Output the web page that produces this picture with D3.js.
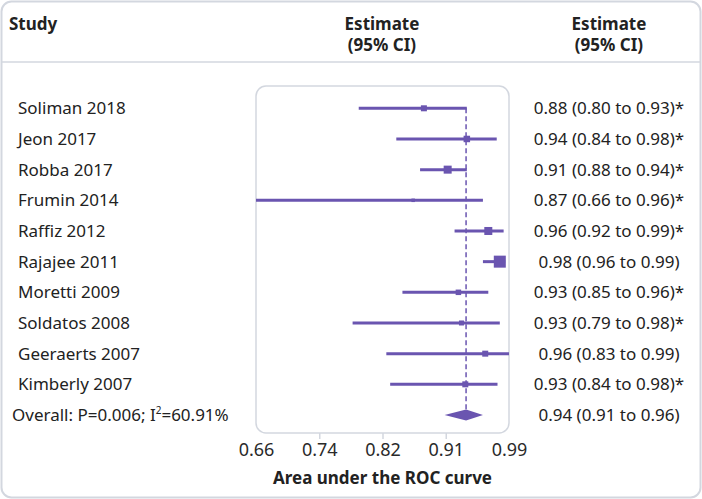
<!DOCTYPE html>
<html>
<head>
<meta charset="utf-8">
<script src="https://cdn.jsdelivr.net/npm/d3@7"></script>
<style>
  body { margin: 0; background: #fff; }
  svg text { font-family: "Noto Sans", "Open Sans", sans-serif; fill: #222; }
</style>
</head>
<body>
<div id="chart"></div>
<script>
var W = 702, H = 499;

var studies = ["Soliman 2018", "Jeon 2017", "Robba 2017", "Frumin 2014", "Raffiz 2012",
    "Rajajee 2011", "Moretti 2009", "Soldatos 2008", "Geeraerts 2007", "Kimberly 2007"];
var est = [0.879, 0.935, 0.910, 0.865, 0.963, 0.978, 0.924, 0.928, 0.959, 0.933];
var lo = [0.794, 0.843, 0.874, 0.660, 0.919, 0.956, 0.851, 0.786, 0.830, 0.835];
var hi = [0.935, 0.974, 0.935, 0.956, 0.983, 0.985, 0.963, 0.978, 0.990, 0.975];
var weight = [6, 6.5, 8, 3.5, 8, 12, 5.5, 5, 6, 6];
var labels = ["0.88 (0.80 to 0.93)*", "0.94 (0.84 to 0.98)*", "0.91 (0.88 to 0.94)*",
    "0.87 (0.66 to 0.96)*", "0.96 (0.92 to 0.99)*", "0.98 (0.96 to 0.99)",
    "0.93 (0.85 to 0.96)*", "0.93 (0.79 to 0.98)*", "0.96 (0.83 to 0.99)",
    "0.93 (0.84 to 0.98)*"];
var overall = {est: 0.934, lo: 0.906, hi: 0.956, label: "0.94 (0.91 to 0.96)"};
var tickValues = [0.66, 0.7425, 0.825, 0.9075, 0.99];
var tickLabels = ["0.66", "0.74", "0.82", "0.91", "0.99"];

var purple = "#6a55b0";
var grey = "#d3d7df";
var fs = "17px";

var svg = d3.select("#chart").append("svg")
    .attr("width", W)
    .attr("height", H);

// card
svg.append("rect")
    .attr("x", 1.5).attr("y", 1.5)
    .attr("width", W - 3).attr("height", H - 3)
    .attr("rx", 10)
    .attr("fill", "#fff")
    .attr("stroke", grey)
    .attr("stroke-width", 2);
svg.append("line")
    .attr("x1", 1.5).attr("x2", W - 1.5)
    .attr("y1", 62).attr("y2", 62)
    .attr("stroke", grey)
    .attr("stroke-width", 1.5);

// headers
svg.append("text").attr("x", 9).attr("y", 30)
    .attr("font-size", fs).attr("font-weight", "bold").text("Study");
[382, 609].forEach(function(cx) {
    svg.append("text").attr("x", cx).attr("y", 30).attr("text-anchor", "middle")
        .attr("font-size", fs).attr("font-weight", "bold").text("Estimate");
    svg.append("text").attr("x", cx).attr("y", 51).attr("text-anchor", "middle")
        .attr("font-size", fs).attr("font-weight", "bold").text("(95% CI)");
});

var x = d3.scaleLinear().domain([0.66, 0.99]).range([256, 509]);
var rows = d3.range(studies.length + 1);
var y = d3.scalePoint().domain(rows).range([108.3, 415]);

// plot box
svg.append("rect")
    .attr("x", x(0.66)).attr("y", 86)
    .attr("width", x(0.99) - x(0.66)).attr("height", 433 - 86)
    .attr("rx", 10)
    .attr("fill", "none")
    .attr("stroke", grey)
    .attr("stroke-width", 1.5);

// axis
var xAxis = d3.axisBottom(x)
    .tickValues(tickValues)
    .tickSize(6)
    .tickPadding(4)
    .tickFormat(function(d, i) { return tickLabels[i]; });
var ax = svg.append("g")
    .attr("transform", "translate(0,433)")
    .call(xAxis);
ax.select(".domain").remove();
ax.selectAll(".tick line").attr("stroke", grey).attr("stroke-width", 1.5)
    .filter(function(d, i) { return i == 0 || i == tickValues.length - 1; }).remove();
ax.selectAll(".tick text")
    .attr("font-size", "18px")
    .attr("font-family", "Noto Sans, sans-serif")
    .style("fill", "#2a2a2a");

svg.append("text")
    .attr("x", x(0.825)).attr("y", 484)
    .attr("text-anchor", "middle")
    .attr("font-size", fs).attr("font-weight", "bold")
    .text("Area under the ROC curve");

// dashed overall line
svg.append("line")
    .attr("x1", x(overall.est)).attr("x2", x(overall.est))
    .attr("y1", y(0)).attr("y2", y(rows.length - 1) - 5)
    .attr("stroke", purple)
    .attr("stroke-width", 1.5)
    .attr("stroke-dasharray", "5,3");

// study rows
var g = svg.selectAll("g.study")
    .data(studies)
    .enter().append("g")
    .attr("class", "study");

g.append("line")
    .attr("x1", function(d, i) { return x(lo[i]); })
    .attr("x2", function(d, i) { return x(hi[i]); })
    .attr("y1", function(d, i) { return y(i); })
    .attr("y2", function(d, i) { return y(i); })
    .attr("stroke", purple)
    .attr("stroke-width", 3);

g.append("rect")
    .attr("x", function(d, i) { return x(est[i]) - weight[i] / 2; })
    .attr("y", function(d, i) { return y(i) - weight[i] / 2; })
    .attr("width", function(d, i) { return weight[i]; })
    .attr("height", function(d, i) { return weight[i]; })
    .attr("fill", purple);

g.append("text")
    .attr("x", 18)
    .attr("y", function(d, i) { return y(i) + 6; })
    .attr("font-size", fs)
    .text(function(d) { return d; });

g.append("text")
    .attr("x", 609)
    .attr("y", function(d, i) { return y(i) + 6; })
    .attr("text-anchor", "middle")
    .attr("font-size", fs)
    .text(function(d, i) { return labels[i]; });

// overall row
var oy = y(rows.length - 1);
svg.append("path")
    .attr("d", "M" + x(overall.lo) + "," + oy + "L" + x(overall.est) + "," + (oy - 5.5) +
        "L" + x(overall.hi) + "," + oy + "L" + x(overall.est) + "," + (oy + 5.5) + "Z")
    .attr("fill", purple);

var ot = svg.append("text")
    .attr("x", 12).attr("y", oy + 6)
    .attr("font-size", fs);
ot.append("tspan").text("Overall: P=0.006; I");
ot.append("tspan").attr("font-size", "10px").attr("dy", -7).text("2");
ot.append("tspan").attr("dy", 7).text("=60.91%");

svg.append("text")
    .attr("x", 609).attr("y", oy + 6)
    .attr("text-anchor", "middle")
    .attr("font-size", fs)
    .text(overall.label);
</script>
</body>
</html>
